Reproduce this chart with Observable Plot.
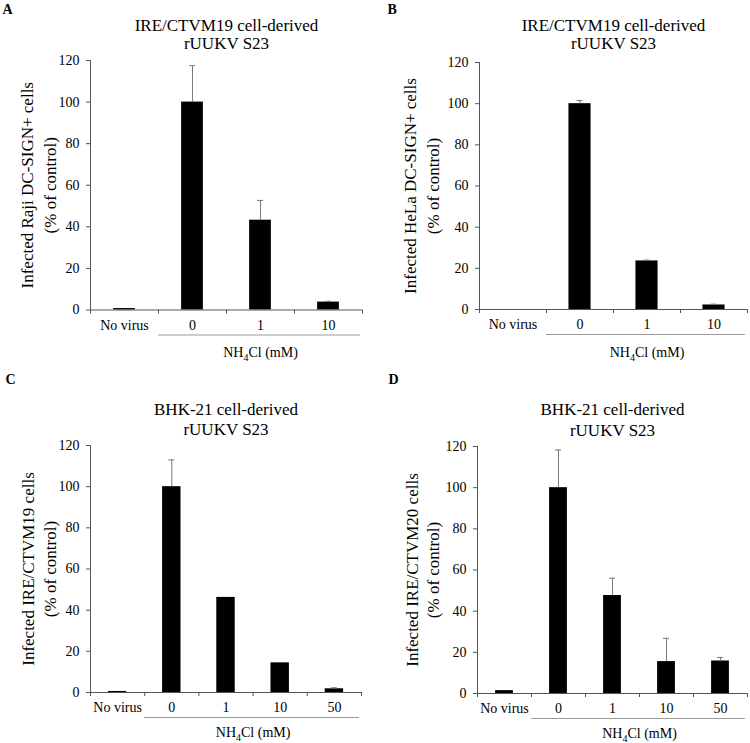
<!DOCTYPE html>
<html>
<head>
<meta charset="utf-8">
<script src="https://cdn.jsdelivr.net/npm/d3@7"></script>
<script src="https://cdn.jsdelivr.net/npm/@observablehq/plot@0.6"></script>
<style>
  html, body { margin: 0; padding: 0; background: white; }
  #wrap { position: relative; width: 750px; height: 743px; background: white; }
  .panel { position: absolute; }
</style>
</head>
<body>
<div id="wrap"></div>
<script>
// ---- data ----
const categoriesAB = ["No virus", "0", "1", "10"];
const categoriesCD = ["No virus", "0", "1", "10", "50"];
const valuesA = [0.7, 100, 43.2, 3.8];
const errorsA = [0, 17.5, 9.5, 0.4];
const valuesB = [0, 100, 23.6, 2.2];
const errorsB = [0, 1.5, 0.4, 0.4];
const valuesC = [0.5, 100, 46.2, 14.4, 1.8];
const errorsC = [0, 13, 0, 0, 0.5];
const valuesD = [1.4, 100, 47.6, 15.5, 15.8];
const errorsD = [0, 18.3, 8.4, 11.3, 1.7];
const titleAB = ["IRE/CTVM19 cell-derived", "rUUKV S23"];
const titleCD = ["BHK-21 cell-derived", "rUUKV S23"];
const yLabelA = ["Infected Raji DC-SIGN+ cells", "(% of control)"];
const yLabelB = ["Infected HeLa DC-SIGN+ cells", "(% of control)"];
const yLabelC = ["Infected IRE/CTVM19 cells", "(% of control)"];
const yLabelD = ["Infected IRE/CTVM20 cells", "(% of control)"];
const yTicks = [0, 20, 40, 60, 80, 100, 120];
const treatmentLabel = "NH4Cl (mM)";
const panelLetters = ["A", "B", "C", "D"];

// ---- drawing ----
const FONT = "'Liberation Serif', 'Times New Roman', serif";
const AXIS = "#555";
const ERR = "#7a7a7a";

function drawPanel(cfg) {
  const {letter, cats, values, errors, title, ylabel, left, top, width, height,
         mt, mb, ml, mr, ylDx, tDy, barFrac, nhDy} = cfg;
  const n = cats.length;
  const rows = cats.map((c, i) => ({c, i, v: values[i], e: errors[i]}));
  const errRows = rows.filter(d => d.e > 0);
  const step = (width - ml - mr) / n;
  const inset = step * (1 - barFrac) / 2;
  const svg = Plot.plot({
    width, height,
    marginTop: mt, marginBottom: mb, marginLeft: ml, marginRight: mr,
    x: {type: "linear", domain: [0, n], label: null},
    y: {domain: [0, 120], label: null},
    style: {fontFamily: FONT, fontSize: "14px", color: "black", background: "white", overflow: "visible"},
    marks: [
      Plot.rectY(rows, {x1: "i", x2: d => d.i + 1, y: "v", insetLeft: inset, insetRight: inset, fill: "black"}),
      Plot.ruleX(errRows, {x: d => d.i + 0.5, y1: "v", y2: d => d.v + d.e, stroke: ERR, strokeWidth: 1}),
      Plot.ruleY(errRows, {y: d => d.v + d.e, x1: d => d.i + 0.5, x2: d => d.i + 0.5, insetLeft: -3, insetRight: -3, stroke: ERR}),
      Plot.ruleY([0], {stroke: AXIS}),
      Plot.ruleX([0], {stroke: AXIS}),
      Plot.axisY({ticks: yTicks, tickSize: 4, tickPadding: 7, stroke: AXIS, fill: "black", fontSize: 14, label: null}),
      Plot.axisX({ticks: d3.range(n + 1), tickSize: 4, tickFormat: () => "", stroke: AXIS, label: null}),
      Plot.axisX({ticks: d3.range(n).map(i => i + 0.5), tickSize: 0, tickPadding: 10,
                  tickFormat: t => cats[Math.floor(t)], fill: "black", fontSize: 14, label: null}),
      Plot.ruleY([0], {x1: 1, x2: n, dy: 25, insetRight: 2, stroke: "#9a9a9a"}),
      Plot.text([treatmentLabel], {text: d => d, x: (1 + n) / 2, y: 0, dy: nhDy, fontSize: 14, fill: "black",
                                   textAnchor: "middle", lineAnchor: "middle"}),
      Plot.text([title[0]], {text: d => d, frameAnchor: "top", dy: tDy[0], fontSize: 17, fill: "black",
                             textAnchor: "middle", lineAnchor: "middle"}),
      Plot.text([title[1]], {text: d => d, frameAnchor: "top", dy: tDy[1], fontSize: 17, fill: "black",
                             textAnchor: "middle", lineAnchor: "middle"}),
      Plot.text([ylabel[0]], {text: d => d, frameAnchor: "left", rotate: -90, dx: ylDx[0], fontSize: 17, fill: "black",
                              textAnchor: "middle", lineAnchor: "middle"}),
      Plot.text([ylabel[1]], {text: d => d, frameAnchor: "left", rotate: -90, dx: ylDx[1], fontSize: 17, fill: "black",
                              textAnchor: "middle", lineAnchor: "middle"}),
      Plot.text([letter], {text: d => d, frameAnchor: "top-left", dx: cfg.letterX - ml, dy: 13 - mt,
                           textAnchor: "start", lineAnchor: "bottom", fontWeight: "bold", fontSize: 14, fill: "black"})
    ]
  });
  // subscript for NH4Cl
  svg.querySelectorAll("text").forEach(t => {
    if (t.textContent === treatmentLabel) {
      t.textContent = "";
      const ns = "http://www.w3.org/2000/svg";
      const a = document.createElementNS(ns, "tspan"); a.textContent = "NH";
      const b = document.createElementNS(ns, "tspan"); b.textContent = "4";
      b.setAttribute("font-size", "10"); b.setAttribute("dy", "4");
      const c = document.createElementNS(ns, "tspan"); c.textContent = "Cl (mM)";
      c.setAttribute("dy", "-4");
      t.append(a, b, c);
    }
  });
  const div = document.createElement("div");
  div.className = "panel";
  div.style.left = left + "px";
  div.style.top = top + "px";
  div.appendChild(svg);
  document.getElementById("wrap").appendChild(div);
}

drawPanel({letter: panelLetters[0], cats: categoriesAB, values: valuesA, errors: errorsA, title: titleAB, ylabel: yLabelA,
  left: 0, top: 0, width: 375, height: 370, mt: 60, mb: 60.5, ml: 90, mr: 13,
  ylDx: [-63, -40], tDy: [-35, -17], barFrac: 0.32, letterX: 2, nhDy: 43});
drawPanel({letter: panelLetters[1], cats: categoriesAB, values: valuesB, errors: errorsB, title: titleAB, ylabel: yLabelB,
  left: 375, top: 0, width: 375, height: 370, mt: 62, mb: 61, ml: 104, mr: 3,
  ylDx: [-69, -46], tDy: [-37, -19], barFrac: 0.33, letterX: 12, nhDy: 43});
drawPanel({letter: panelLetters[2], cats: categoriesCD, values: valuesC, errors: errorsC, title: titleCD, ylabel: yLabelC,
  left: 0, top: 370, width: 375, height: 373, mt: 75, mb: 51, ml: 90, mr: 14,
  ylDx: [-62, -40], tDy: [-36, -16], barFrac: 0.34, letterX: 5, nhDy: 40});
drawPanel({letter: panelLetters[3], cats: categoriesCD, values: valuesD, errors: errorsD, title: titleCD, ylabel: yLabelD,
  left: 375, top: 370, width: 375, height: 373, mt: 76, mb: 50, ml: 102, mr: 3,
  ylDx: [-65, -44], tDy: [-37, -16], barFrac: 0.33, letterX: 13, nhDy: 40});
</script>
</body>
</html>
